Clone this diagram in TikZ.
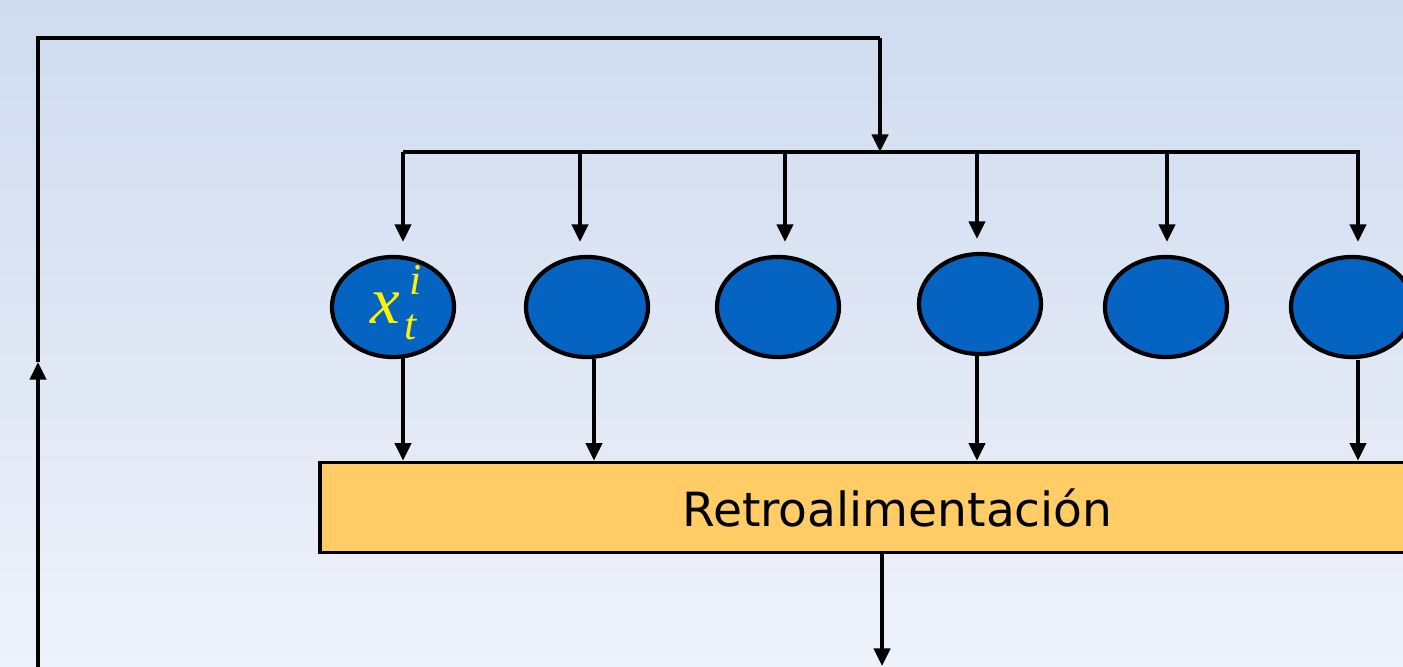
\documentclass[tikz,border=0pt]{standalone}
\usepackage{fontspec}
\setsansfont{DejaVu Sans}
\newfontfamily\timesfont{Liberation Serif}
\usetikzlibrary{arrows.meta,shapes.geometric}
\definecolor{bgtop}{RGB}{207,219,239}
\definecolor{bgbot}{RGB}{238,242,250}
\definecolor{nodeblue}{RGB}{5,99,193}
\definecolor{boxyellow}{RGB}{255,204,102}
\begin{document}
\begin{tikzpicture}[x=0.01cm,y=-0.01cm,
  wire/.style={line width=1.05pt,draw=black},
  arr/.style={wire,-{Triangle[length=5pt,width=4.6pt]}},
  cell/.style={ellipse,draw=black,line width=1.2pt,fill=nodeblue,minimum width=1.22cm,minimum height=1.0cm,inner sep=0pt},
  fbox/.style={rectangle,draw=black,line width=1.05pt,fill=boxyellow,minimum width=11.55cm,minimum height=0.9cm,inner sep=0pt,font=\sffamily\fontsize{13.4}{16}\selectfont},
  lblstyle/.style={text=yellow,inner sep=0pt,font=\timesfont\itshape\fontsize{19}{20}\selectfont}]
\useasboundingbox (0,0) rectangle (1403,666);
\shade[top color=bgtop,bottom color=bgbot] (0,0) rectangle (1403,666);
% cells
\node[cell] (e1) at (393,307) {};
\node[cell] (e2) at (587,307) {};
\node[cell] (e3) at (778,307) {};
\node[cell] (e4) at (980,304) {};
\node[cell] (e5) at (1166,307) {};
\node[cell] (e6) at (1352,307) {};
\node[lblstyle,anchor=base west] (lbl) at (370,323) {x\kern1.2pt\raisebox{8pt}{\makebox[0pt][l]{\fontsize{12.5}{13}\selectfont\kern1.5pt i}}\raisebox{-4.6pt}{\fontsize{12.5}{13}\selectfont t}};
% feedback box
\node[fbox] (fb) at (897.5,507.5) {Retroalimentación};
% coordinates
\coordinate (lb) at (38,670);
\coordinate (lm) at (38,362);
\coordinate (lt) at (38,38);
\coordinate (tt) at (880,38);
\coordinate (bj) at (880,152);
\coordinate (bl) at (403,152);
\coordinate (br) at (1360,152);
\coordinate (b1) at (403,152);
\coordinate (b2) at (580,152);
\coordinate (b3) at (785,152);
\coordinate (b4) at (977,152);
\coordinate (b5) at (1167,152);
\coordinate (b6) at (1358,152);
\coordinate (out) at (882,666);
% left feedback loop
\draw[arr] (lb) -- (lm);
\draw[wire] (lm) -- (lt) -- (tt);
\draw[arr] (tt) -- (bj);
% bus
\draw[wire] (bl) -- (br);
\foreach \i in {1,...,6}{
  \draw[arr,shorten >=0.13cm] (b\i) -- (b\i |- e\i.north);
}
% cells to box
\draw[arr] (403,358) coordinate (s1) -- (s1 |- fb.north);
\draw[arr] (594,359) coordinate (s2) -- (s2 |- fb.north);
\draw[arr] (977,356) coordinate (s4) -- (s4 |- fb.north);
\draw[arr] (1358,360) coordinate (s6) -- (s6 |- fb.north);
% output
\draw[arr] (fb.south -| out) -- (out);
\end{tikzpicture}
\end{document}
